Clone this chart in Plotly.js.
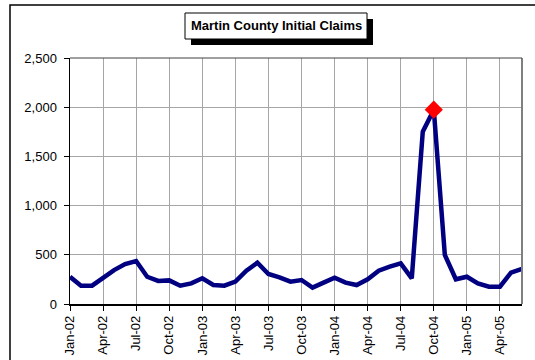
<!DOCTYPE html>
<html>
<head>
<meta charset="utf-8">
<script src="https://cdn.plot.ly/plotly-3.0.1.min.js"></script>
<style>
  html, body { margin: 0; padding: 0; background: #ffffff; }
  #chart { width: 535px; height: 360px; }
</style>
</head>
<body>
<div id="chart"></div>
<script>
// ---- data ----
const months = [
  "Jan-02","Feb-02","Mar-02","Apr-02","May-02","Jun-02","Jul-02","Aug-02","Sep-02","Oct-02","Nov-02","Dec-02",
  "Jan-03","Feb-03","Mar-03","Apr-03","May-03","Jun-03","Jul-03","Aug-03","Sep-03","Oct-03","Nov-03","Dec-03",
  "Jan-04","Feb-04","Mar-04","Apr-04","May-04","Jun-04","Jul-04","Aug-04","Sep-04","Oct-04","Nov-04","Dec-04",
  "Jan-05","Feb-05","Mar-05","Apr-05","May-05","Jun-05"
];
const claims = [
  277,186,186,261,345,406,437,277,234,240,186,210,
  261,193,186,227,339,420,305,271,227,244,166,217,
  268,217,193,251,339,379,413,261,1751,1975,498,251,
  277,210,176,176,318,356
];
const highlightMonth = ["Oct-04"];
const highlightValue = [1975];
const tickLabels = ["Jan-02","Apr-02","Jul-02","Oct-02","Jan-03","Apr-03","Jul-03","Oct-03",
                    "Jan-04","Apr-04","Jul-04","Oct-04","Jan-05","Apr-05"];
const yTicks = [0, 500, 1000, 1500, 2000, 2500];
const chartTitle = "Martin County Initial Claims";

// ---- layout helpers (pixel -> paper) ----
const W = 535, H = 360;
const M = { l: 70, r: 13, t: 58, b: 56 };
const pw = W - M.l - M.r, ph = H - M.t - M.b;
const px = x => (x - M.l) / pw;
const py = y => (H - M.b - y) / ph;

const traces = [
  {
    type: "scatter", mode: "lines",
    x: months, y: claims,
    line: { color: "#000080", width: 4.5 },
    hoverinfo: "skip", showlegend: false
  },
  {
    type: "scatter", mode: "markers",
    x: highlightMonth, y: highlightValue,
    marker: { symbol: "diamond", color: "#ff0000", size: 14, line: { width: 0 } },
    cliponaxis: false,
    hoverinfo: "skip", showlegend: false
  }
];

const layout = {
  width: W, height: H,
  margin: M,
  paper_bgcolor: "#ffffff",
  plot_bgcolor: "#ffffff",
  font: { family: "Liberation Sans, Arial, sans-serif", size: 13, color: "#000000" },
  showlegend: false,
  xaxis: {
    type: "category",
    categoryorder: "array", categoryarray: months,
    range: [0, months.length - 1],
    tickmode: "array", tickvals: tickLabels, ticktext: tickLabels,
    tickangle: -90,
    ticks: "outside", ticklen: 5, tickcolor: "#000000", tickwidth: 1,
    showgrid: true, gridcolor: "#a6a6a6", gridwidth: 1,
    showline: true, linecolor: "#000000", linewidth: 1.5,
    zeroline: false, automargin: false,
    tickfont: { size: 13 }
  },
  yaxis: {
    range: [0, 2500],
    tickmode: "array", tickvals: yTicks,
    tickformat: ",d",
    ticks: "outside", ticklen: 5, tickcolor: "#000000", tickwidth: 1,
    ticklabelstandoff: 4,
    showgrid: true, gridcolor: "#a6a6a6", gridwidth: 1,
    showline: true, linecolor: "#000000", linewidth: 1.5,
    zeroline: false, automargin: false,
    tickfont: { size: 13 }
  },
  shapes: [
    { type: "line", xref: "paper", yref: "paper", x0: 1, x1: 1, y0: 0, y1: 1,
      line: { color: "#808080", width: 2 }, layer: "above" },
    { type: "line", xref: "paper", yref: "paper", x0: 0, x1: 1, y0: 1, y1: 1,
      line: { color: "#404040", width: 1 }, layer: "above" },
    { type: "rect", xref: "paper", yref: "paper",
      x0: px(10), x1: px(545), y0: py(370), y1: py(5),
      line: { color: "#000000", width: 1.5 }, fillcolor: "rgba(0,0,0,0)" },
    { type: "rect", xref: "paper", yref: "paper",
      x0: px(191), x1: px(373), y0: py(45), y1: py(19),
      line: { width: 0 }, fillcolor: "#000000" },
    { type: "rect", xref: "paper", yref: "paper",
      x0: px(185), x1: px(367), y0: py(39), y1: py(13),
      line: { color: "#000000", width: 1 }, fillcolor: "#ffffff" }
  ],
  annotations: [
    { text: "<b>" + chartTitle + "</b>", xref: "paper", yref: "paper",
      x: px(276), y: py(26), xanchor: "center", yanchor: "middle",
      showarrow: false, font: { size: 13, color: "#000000" } }
  ]
};

Plotly.newPlot("chart", traces, layout, { staticPlot: true, displayModeBar: false });
</script>
</body>
</html>
